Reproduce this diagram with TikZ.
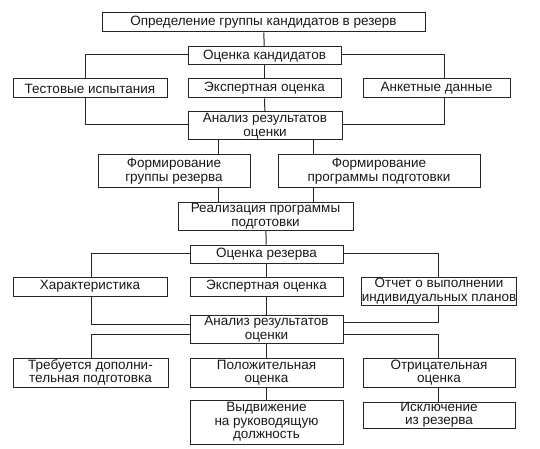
\documentclass[tikz,border=0pt]{standalone}
\usepackage{fontspec}
\setmainfont{Liberation Sans}
\begin{document}
\begin{tikzpicture}[x=1pt,y=-1pt,
  box/.style={draw=black!85, line width=1pt, inner sep=0pt, align=center,
    font=\fontsize{13.5}{13.5}\selectfont, text=black!90},
  ln/.style={draw=black!85, line width=1pt}]
\useasboundingbox (0,0) rectangle (540,449);
\node[box, minimum width=323, minimum height=19] (top) at (263.5,22.5) {Определение группы кандидатов в резерв};
\node[box, minimum width=153, minimum height=18] (ok) at (264.5,56) {Оценка кандидатов};
\node[box, minimum width=154, minimum height=19] (test) at (90,88.5) {Тестовые испытания};
\node[box, minimum width=153, minimum height=19] (exa) at (264.5,88.5) {Экспертная оценка};
\node[box, minimum width=147, minimum height=19] (ank) at (436.5,88.5) {Анкетные данные};
\node[box, minimum width=154, minimum height=28] (ana) at (265,126) {Анализ результатов\\оценки};
\node[box, minimum width=152, minimum height=32] (fg) at (174,171) {Формирование\\группы резерва};
\node[box, minimum width=202, minimum height=32] (fp) at (379,171) {Формирование\\программы подготовки};
\node[box, minimum width=175, minimum height=28] (real) at (265.5,216) {Реализация программы\\подготовки};
\node[box, minimum width=153, minimum height=18] (okr) at (266.5,254) {Оценка резерва};
\node[box, minimum width=154, minimum height=19] (har) at (90,286.5) {Характеристика};
\node[box, minimum width=153, minimum height=19] (exb) at (266.5,286.5) {Экспертная оценка};
\node[box, minimum width=152, minimum height=28] (otch) at (439,291) {Отчет о выполнении\\индивидуальных планов};
\node[box, minimum width=153, minimum height=28] (anb) at (266.5,329) {Анализ результатов\\оценки};
\node[box, minimum width=155, minimum height=29] (treb) at (90.5,372.5) {Требуется дополни-\\тельная подготовка};
\node[box, minimum width=153, minimum height=29] (pol) at (266.5,372.5) {Положительная\\оценка};
\node[box, minimum width=152, minimum height=29] (otr) at (439,372.5) {Отрицательная\\оценка};
\node[box, minimum width=153, minimum height=44] (vyd) at (266.5,422) {Выдвижение\\на руководящую\\должность};
\node[box, minimum width=152, minimum height=26] (isk) at (439,415) {Исключение\\из резерва};
% connectors
\draw[ln] (top) -- (ok);
\draw[ln] ([yshift=1]ok.west) -| ([xshift=-5]test.north);
\draw[ln] ([yshift=1]ok.east) -| ([xshift=7.5]ank.north);
\draw[ln] (ok) -- (exa);
\draw[ln] (exa) -- (ana);
\draw[ln] ([xshift=-5]test.south) |- ([yshift=1]ana.west);
\draw[ln] ([xshift=7.5]ank.south) |- ([yshift=1]ana.east);
\draw[ln] ([xshift=-47]ana.south) -- ([xshift=44]fg.north);
\draw[ln] ([xshift=48]ana.south) -- ([xshift=-66]fp.north);
\draw[ln] ([xshift=44]fg.south) -- ([xshift=-47.5]real.north);
\draw[ln] ([xshift=-66]fp.south) -- ([xshift=47.5]real.north);
\draw[ln] (real) -- (okr);
\draw[ln] ([yshift=1]okr.west) -| ([xshift=1]har.north);
\draw[ln] ([yshift=1]okr.east) -| ([xshift=-1]otch.north);
\draw[ln] (okr) -- (exb);
\draw[ln] (exb) -- (anb);
\draw[ln] ([xshift=1]har.south) |- ([yshift=5]anb.west);
\draw[ln] ([xshift=-1]otch.south) |- ([yshift=7]anb.east);
\draw[ln] ([yshift=-5]anb.west) -| ([xshift=0.5]treb.north);
\draw[ln] ([yshift=-5]anb.east) -| ([xshift=-1]otr.north);
\draw[ln] (anb) -- (pol);
\draw[ln] (pol) -- (vyd);
\draw[ln] ([xshift=-1]otr.south) -- ([xshift=-1]isk.north);
\end{tikzpicture}
\end{document}
